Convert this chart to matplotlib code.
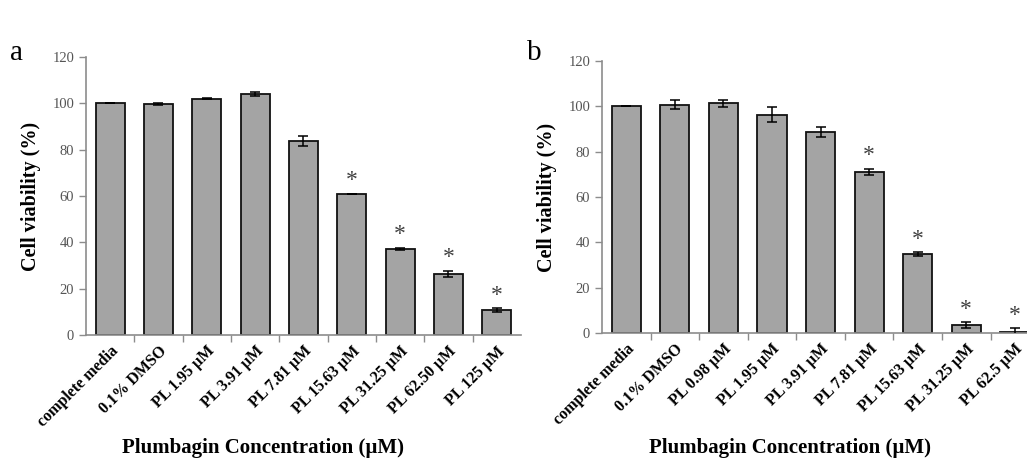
import matplotlib
matplotlib.use("Agg")
import matplotlib.pyplot as plt
import numpy as np

plt.rcParams["font.family"] = ["Liberation Serif", "DejaVu Serif"]

labels_a = ["complete media", "0.1% DMSO", "PL 1.95 µM", "PL 3.91 µM", "PL 7.81 µM",
            "PL 15.63 µM", "PL 31.25 µM", "PL 62.50 µM", "PL 125 µM"]
viability_a = [100.0, 99.6, 102.0, 104.0, 83.7, 61.0, 37.2, 26.5, 10.7]
err_a = [0.0, 0.4, 0.3, 1.0, 2.1, 0.0, 0.4, 1.3, 0.8]
sig_a = [False, False, False, False, False, True, True, True, True]

labels_b = ["complete media", "0.1% DMSO", "PL 0.98 µM", "PL 1.95 µM", "PL 3.91 µM",
            "PL 7.81 µM", "PL 15.63 µM", "PL 31.25 µM", "PL 62.5 µM"]
viability_b = [100.0, 100.8, 101.3, 96.3, 88.8, 71.0, 34.8, 3.4, 0.6]
err_b = [0.0, 2.0, 1.5, 3.3, 2.2, 1.3, 0.8, 1.3, 1.5]
sig_b = [False, False, False, False, False, True, True, True, True]

GREY = "#a4a4a4"
AXIS = "#8c8c8c"


def draw_panel(ax, labels, vals, errs, sig):
    x = np.arange(len(labels))
    ax.bar(x, vals, width=0.6, color=GREY, edgecolor="#111111", linewidth=1.3, zorder=2)
    ax.errorbar(x, vals, yerr=errs, fmt="none", ecolor="black", elinewidth=1.1,
                capsize=3.5, capthick=1.1, zorder=3)
    for xi, v, e, s in zip(x, vals, errs, sig):
        if s:
            ax.text(xi, v + e + 1.2, "*", ha="center", va="bottom", fontsize=17,
                    color="#404040")
    ax.set_xlim(-0.5, len(labels) - 0.5)
    ax.set_ylim(0, 120)
    ax.set_yticks(range(0, 121, 20))
    ax.set_xticks(x)
    ax.set_xticklabels(labels, rotation=45, ha="right", rotation_mode="anchor",
                       fontsize=11.5, fontweight="bold")
    ax.set_xticks(np.arange(0.5, len(labels) - 0.5, 1), minor=True)
    ax.tick_params(axis="x", which="major", length=0, pad=6)
    ax.tick_params(axis="x", which="minor", length=5, color=AXIS, width=1)
    ax.tick_params(axis="y", length=5, color=AXIS, width=1, labelsize=10.5,
                   labelcolor="#555555")
    for side in ("top", "right"):
        ax.spines[side].set_visible(False)
    for side in ("left", "bottom"):
        ax.spines[side].set_color(AXIS)
        ax.spines[side].set_linewidth(1.2)
    ax.set_ylabel("Cell viability (%)", fontsize=14.5, fontweight="bold", labelpad=8)


fig = plt.figure(figsize=(10.27, 4.61), dpi=100)
ax_a = fig.add_axes([0.0837, 0.2733, 0.4236, 0.603])
ax_b = fig.add_axes([0.5862, 0.2777, 0.4256, 0.590])

draw_panel(ax_a, labels_a, viability_a, err_a, sig_a)
draw_panel(ax_b, labels_b, viability_b, err_b, sig_b)

fig.text(0.010, 0.885, "a", fontsize=21, va="center")
fig.text(0.513, 0.885, "b", fontsize=21, va="center")
fig.text(0.256, 0.028, "Plumbagin Concentration (µM)", fontsize=15,
         fontweight="bold", ha="center", va="center")
fig.text(0.769, 0.028, "Plumbagin Concentration (µM)", fontsize=15,
         fontweight="bold", ha="center", va="center")

fig.savefig("out.png", dpi=100)
